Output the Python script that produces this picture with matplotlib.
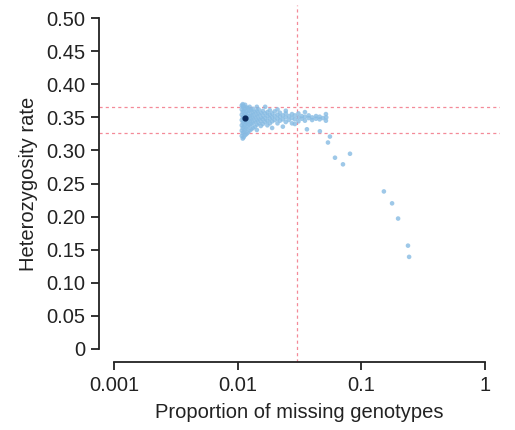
import numpy as np
import matplotlib
matplotlib.use("Agg")
import matplotlib.pyplot as plt
from matplotlib.ticker import FixedLocator, FixedFormatter

plt.rcParams['font.family'] = ['Liberation Sans', 'DejaVu Sans']

# per-sample (missing proportion, heterozygosity) pairs
samples = [
    (0.0108, 0.322), (0.0108, 0.330), (0.0108, 0.338), (0.0108, 0.346), (0.0108, 0.354), (0.0108, 0.362), (0.0108, 0.368),
    (0.0110, 0.318), (0.0110, 0.326), (0.0110, 0.334), (0.0110, 0.342), (0.0110, 0.350), (0.0110, 0.358), (0.0110, 0.366), (0.0110, 0.370),
    (0.0112, 0.320), (0.0112, 0.328), (0.0112, 0.336), (0.0112, 0.344), (0.0112, 0.348), (0.0112, 0.352), (0.0112, 0.360), (0.0112, 0.367),
    (0.0115, 0.323), (0.0115, 0.331), (0.0115, 0.339), (0.0115, 0.345), (0.0115, 0.355), (0.0115, 0.363), (0.0115, 0.369),
    (0.0118, 0.325), (0.0118, 0.333), (0.0118, 0.341), (0.0118, 0.347), (0.0118, 0.353), (0.0118, 0.359), (0.0118, 0.365),
    (0.0121, 0.327), (0.0121, 0.336), (0.0121, 0.343), (0.0121, 0.350), (0.0121, 0.357), (0.0121, 0.364),
    (0.0125, 0.330), (0.0125, 0.338), (0.0125, 0.345), (0.0125, 0.352), (0.0125, 0.360), (0.0125, 0.366),
    (0.0129, 0.332), (0.0129, 0.340), (0.0129, 0.347), (0.0129, 0.354), (0.0129, 0.361),
    (0.0133, 0.334), (0.0133, 0.342), (0.0133, 0.349), (0.0133, 0.356), (0.0133, 0.363),
    (0.0138, 0.336), (0.0138, 0.344), (0.0138, 0.351), (0.0138, 0.358),
    (0.0143, 0.331), (0.0143, 0.339), (0.0143, 0.346), (0.0143, 0.353), (0.0143, 0.360), (0.0143, 0.366),
    (0.0148, 0.341), (0.0148, 0.348), (0.0148, 0.355), (0.0148, 0.362),
    (0.0154, 0.337), (0.0154, 0.344), (0.0154, 0.350), (0.0154, 0.357),
    (0.0160, 0.340), (0.0160, 0.347), (0.0160, 0.353), (0.0160, 0.360),
    (0.0167, 0.343), (0.0167, 0.349), (0.0167, 0.356), (0.0167, 0.366),
    (0.0174, 0.338), (0.0174, 0.345), (0.0174, 0.352), (0.0174, 0.358),
    (0.0182, 0.341), (0.0182, 0.348), (0.0182, 0.354), (0.0182, 0.361),
    (0.0190, 0.334), (0.0190, 0.344), (0.0190, 0.350), (0.0190, 0.356),
    (0.0199, 0.346), (0.0199, 0.352), (0.0199, 0.359),
    (0.0210, 0.341), (0.0210, 0.348), (0.0210, 0.354), (0.0210, 0.362),
    (0.0220, 0.345), (0.0220, 0.351), (0.0220, 0.357),
    (0.0232, 0.336), (0.0232, 0.347), (0.0232, 0.353),
    (0.0245, 0.343), (0.0245, 0.350), (0.0245, 0.356), (0.0245, 0.360),
    (0.0260, 0.346), (0.0260, 0.352),
    (0.0275, 0.341), (0.0275, 0.349), (0.0275, 0.355),
    (0.0290, 0.340), (0.0290, 0.347), (0.0290, 0.353),
    (0.0310, 0.344), (0.0310, 0.350), (0.0310, 0.356),
    (0.0330, 0.348), (0.0330, 0.352),
    (0.0350, 0.345), (0.0350, 0.351), (0.0350, 0.358),
    (0.0375, 0.349), (0.0375, 0.353),
    (0.0400, 0.346), (0.0400, 0.350),
    (0.0430, 0.348), (0.0430, 0.352),
    (0.0460, 0.347), (0.0460, 0.351),
    (0.0490, 0.349),
    (0.0517, 0.355), (0.0517, 0.345), (0.0520, 0.350),
    (0.0363, 0.332), (0.0462, 0.329), (0.0557, 0.321), (0.0537, 0.312),
    (0.0612, 0.289), (0.0809, 0.295), (0.0710, 0.279),
    (0.152, 0.238), (0.177, 0.220), (0.198, 0.197), (0.238, 0.156), (0.243, 0.139),
]
miss_rate, het_rate = np.array(samples).T

# most dense sample
peak_x, peak_y = 0.0115, 0.349

# QC thresholds
het_lo, het_hi = 0.327, 0.365
miss_cut = 0.03

x_ticks = [0.001, 0.01, 0.1, 1]
x_labels = ['0.001', '0.01', '0.1', '1']
y_ticks = [0, 0.05, 0.10, 0.15, 0.20, 0.25, 0.30, 0.35, 0.40, 0.45, 0.50]
y_labels = ['0', '0.05', '0.10', '0.15', '0.20', '0.25', '0.30', '0.35', '0.40', '0.45', '0.50']

fig = plt.figure(figsize=(5.15, 4.30), dpi=100)
ax = fig.add_axes([99 / 515, 1 - 362 / 430, 401 / 515, 357 / 430])

ax.set_xscale('log')
ax.set_xlim(10 ** -3.12, 10 ** 0.12)
ax.set_ylim(-0.02, 0.52)

ax.scatter(miss_rate, het_rate, s=11, color='#86bbe3', edgecolors='none',
           alpha=0.8, zorder=3)
ax.scatter([peak_x], [peak_y], s=12, color='#0b2a5c', zorder=4)

ref = dict(color='#f48a98', lw=0.9, ls=(0, (2.5, 2.5)), zorder=2)
ax.axhline(het_hi, **ref)
ax.axhline(het_lo, **ref)
ax.axvline(miss_cut, **ref)

# detached R-style axes
for side in ['top', 'right']:
    ax.spines[side].set_visible(False)
ax.spines['left'].set_bounds(0, 0.5)
ax.spines['bottom'].set_bounds(0.001, 1)
for side in ['left', 'bottom']:
    ax.spines[side].set_linewidth(1.3)
    ax.spines[side].set_color('#222222')

ax.xaxis.set_major_locator(FixedLocator(x_ticks))
ax.xaxis.set_major_formatter(FixedFormatter(x_labels))
ax.xaxis.set_minor_locator(FixedLocator([]))
ax.yaxis.set_major_locator(FixedLocator(y_ticks))
ax.yaxis.set_major_formatter(FixedFormatter(y_labels))
ax.tick_params(axis='both', length=6, width=1.3, color='#222222',
               labelsize=14.5, labelcolor='#222222', pad=4)

ax.set_xlabel('Proportion of missing genotypes', fontsize=14.5, color='#222222', labelpad=6)
ax.set_ylabel('Heterozygosity rate', fontsize=14.5, color='#222222', labelpad=6)

fig.savefig('out.png', dpi=100)
